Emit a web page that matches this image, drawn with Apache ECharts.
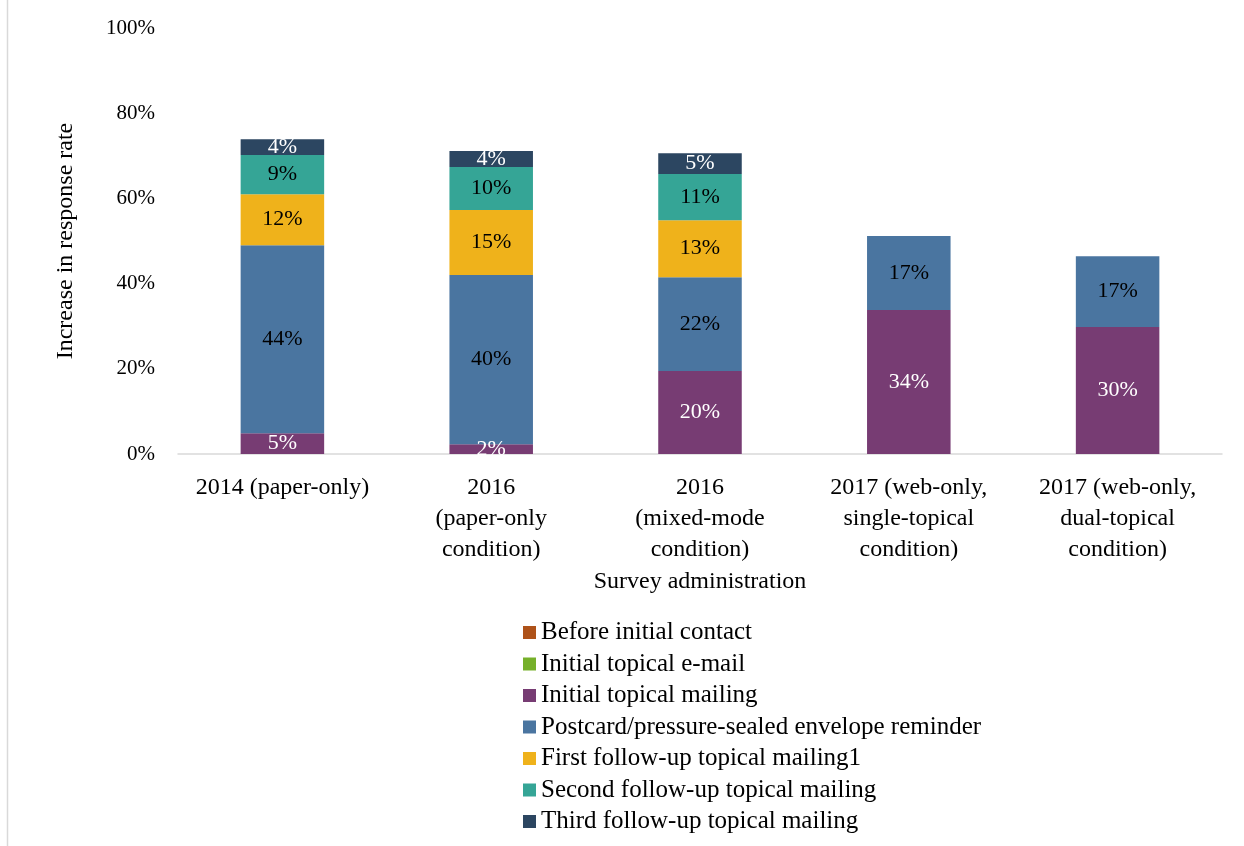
<!DOCTYPE html>
<html>
<head>
<meta charset="UTF-8">
<title>Increase in response rate</title>
<script type="text/javascript" src="https://cdn.jsdelivr.net/npm/echarts@6/dist/echarts.min.js"></script>
<style>
body{margin:0;background:#fff;}
</style>
</head>
<body>
<div id="main" style="width:1244px;height:846px;"></div>

<script type="text/javascript">
// categories (x axis)
var categories=['2014 (paper-only)','2016\n(paper-only\ncondition)','2016\n(mixed-mode\ncondition)','2017 (web-only,\nsingle-topical\ncondition)','2017 (web-only,\ndual-topical\ncondition)'];
var yTicks=[0,20,40,60,80,100];

// series values, percent
var beforeContact=[null,null,null,null,null];
var initialEmail=[null,null,null,null,null];
var initialMailing=[4.9,2.3,19.5,33.8,29.8];
var postcard=[44.1,39.7,22.0,17.4,16.6];
var firstFollow=[12.0,15.3,13.4,null,null];
var secondFollow=[9.2,10.1,10.8,null,null];
var thirdFollow=[3.7,3.7,4.9,null,null];

var names=['Before initial contact','Initial topical e-mail','Initial topical mailing','Postcard/pressure-sealed envelope reminder','First follow-up topical mailing1','Second follow-up topical mailing','Third follow-up topical mailing'];
var values=[beforeContact,initialEmail,initialMailing,postcard,firstFollow,secondFollow,thirdFollow];
var colors=['#AE5219','#76B02A','#773C73','#4A75A0','#EFB21B','#35A596','#2C4661'];
var labelColors=['#fff','#fff','#fff','#000','#000','#000','#fff'];

var font='"Liberation Serif","Times New Roman",serif';

var mychart=echarts.init(document.getElementById('main'));

var series=[];
for(var i=0;i<names.length;i++){
  series.push({
    name:names[i],
    type:'bar',
    stack:'total',
    barWidth:'40%',
    data:values[i],
    itemStyle:{color:colors[i]},
    label:{
      show:true,
      position:'inside',
      color:labelColors[i],
      fontFamily:font,
      fontSize:22,
      formatter:function(p){return p.value==null?'':Math.round(p.value)+'%';}
    }
  });
}

var option={
  animation:false,
  textStyle:{fontFamily:font},
  grid:{left:178,right:22,top:28,bottom:392,containLabel:false},
  xAxis:{
    type:'category',
    data:categories,
    name:'Survey administration',
    nameLocation:'middle',
    nameGap:116,
    nameTextStyle:{fontFamily:font,fontSize:24,color:'#000'},
    axisLine:{lineStyle:{color:'#d9d9d9',width:1.5}},
    axisTick:{show:false},
    axisLabel:{fontFamily:font,fontSize:24,color:'#000',lineHeight:31,margin:18,interval:0}
  },
  yAxis:{
    type:'value',
    min:yTicks[0],
    max:yTicks[yTicks.length-1],
    interval:20,
    name:'Increase in response rate',
    nameLocation:'middle',
    nameGap:100,
    nameTextStyle:{fontFamily:font,fontSize:24,color:'#000'},
    axisLine:{show:false},
    axisTick:{show:false},
    splitLine:{show:false},
    axisLabel:{fontFamily:font,fontSize:21,color:'#000',margin:23,formatter:'{value}%'}
  },
  legend:{
    orient:'vertical',
    left:523,
    top:620,
    padding:0,
    itemGap:6.5,
    itemWidth:13,
    itemHeight:13,
    icon:'rect',
    itemStyle:{borderWidth:0},
    textStyle:{fontFamily:font,fontSize:25,color:'#000'},
    data:names
  },
  graphic:[{
    type:'line',
    shape:{x1:7.5,y1:0,x2:7.5,y2:846},
    style:{stroke:'#d9d9d9',lineWidth:1.5}
  }],
  series:series
};

mychart.setOption(option);
</script>
</body>
</html>
